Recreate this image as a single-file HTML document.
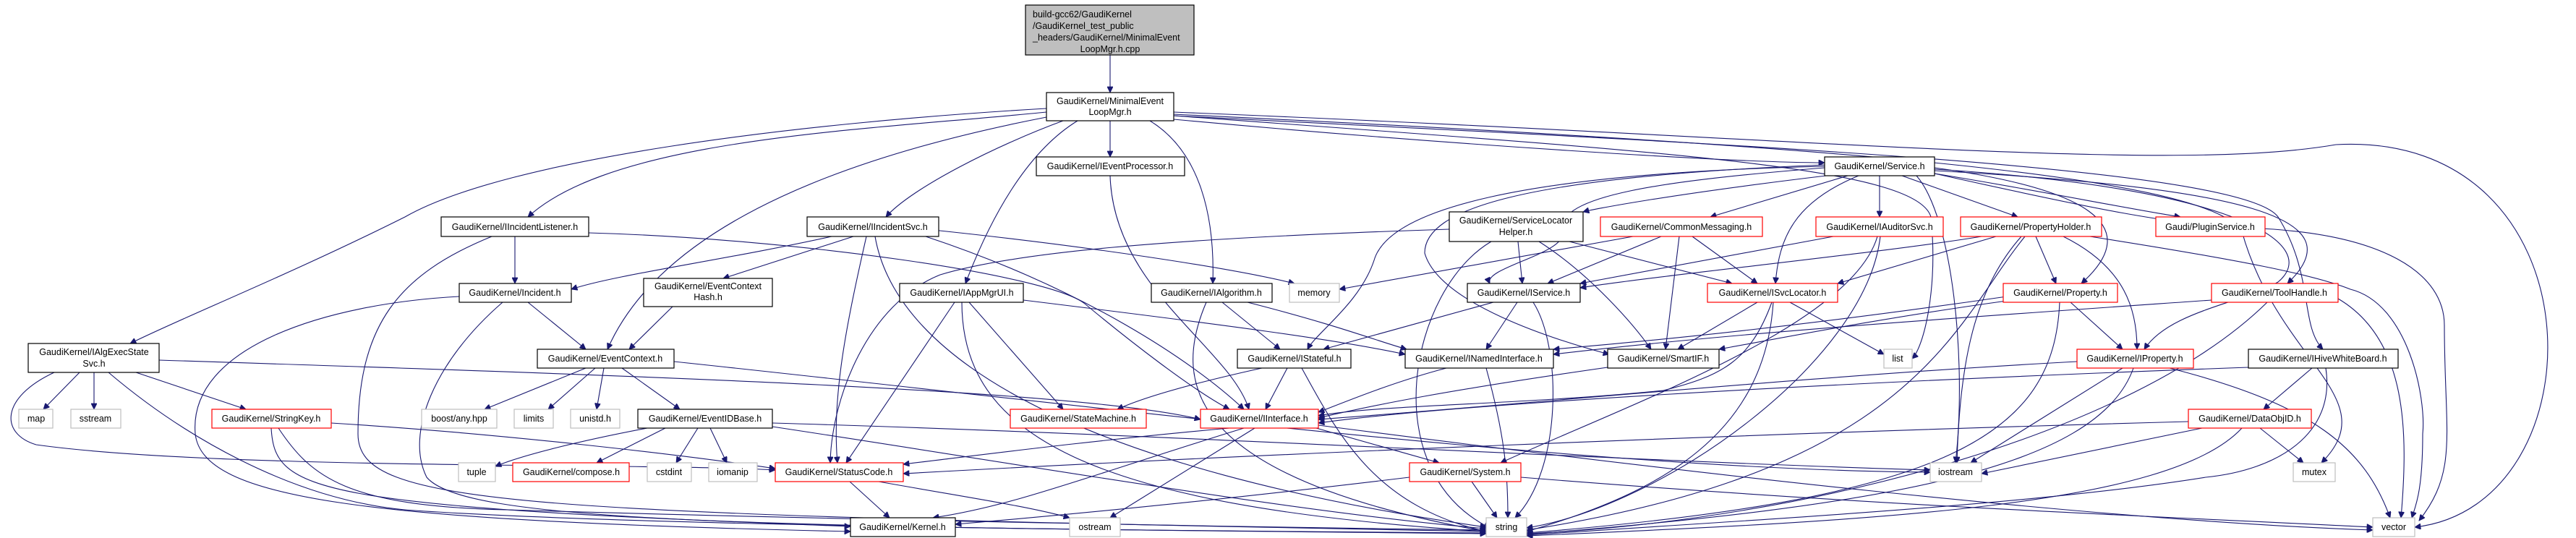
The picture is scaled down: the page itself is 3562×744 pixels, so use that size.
<!DOCTYPE html>
<html><head><meta charset="utf-8"><style>
html,body{margin:0;padding:0;background:#fff;}
svg{display:block;}
text{font-family:"Liberation Sans",Arial,sans-serif;font-size:12.5px;fill:#000;}
.e{fill:none;stroke:#191970;stroke-width:1.1;marker-end:url(#a);}
.b{fill:#fff;stroke:#000;stroke-width:1.2;}
.r{fill:#fff;stroke:#ff0000;stroke-width:1.2;}
.g{fill:#fff;stroke:#bfbfbf;stroke-width:1.2;}
</style></head><body>
<svg width="3562" height="744" viewBox="0 0 3562 744" xmlns="http://www.w3.org/2000/svg">
<defs><marker id="a" viewBox="0 0 10 10" refX="10" refY="5" markerWidth="10" markerHeight="8" markerUnits="userSpaceOnUse" orient="auto"><path d="M0,0 L10,5 L0,10 z" fill="#191970" stroke="#191970"/></marker></defs>
<g>
<path class="e" d="M1535 76 L1535 128"/>
<path class="e" d="M1535 167 L1535 217"/>
<path class="e" d="M1470 167 C1380 200,1260 260,1225 300"/>
<path class="e" d="M1490 167 C1420 210,1370 300,1335 392"/>
<path class="e" d="M1590 167 C1660 210,1680 300,1677 392"/>
<path class="e" d="M1447 155 C1200 180,850 190,730 300"/>
<path class="e" d="M1447 150 C1100 170,700 220,560 300 C400 380,250 440,180 475"/>
<path class="e" d="M1447 162 C1200 210,920 300,840 483"/>
<path class="e" d="M1623 165 C2000 200,2400 225,2523 225"/>
<path class="e" d="M1623 160 C2400 200,3100 230,3150 300 C3200 380,3180 450,3212 483"/>
<path class="e" d="M1623 155 C2500 190,3000 240,3230 200 C3600 180,3600 700,3339 729"/>
<path class="e" d="M1623 158 C2500 200,3050 240,3100 320 C3150 500,3300 550,3210 640"/>
<path class="e" d="M1623 160 C2300 210,2650 230,2670 300 C2680 400,2660 480,2644 496"/>
<path class="e" d="M1535 243 C1540 400,1700 480,1727 566"/>
<path class="e" d="M1180 327 L1000 385"/>
<path class="e" d="M1150 327 C1000 360,850 380,790 400"/>
<path class="e" d="M1290 318 C1500 340,1700 370,1790 392"/>
<path class="e" d="M1280 327 C1500 400,1650 500,1720 566"/>
<path class="e" d="M1198 327 C1170 450,1150 550,1158 640"/>
<path class="e" d="M1210 327 C1240 500,1500 650,2055 729"/>
<path class="e" d="M712 327 L712 392"/>
<path class="e" d="M814 322 C1100 330,1450 380,1500 420 C1560 470,1650 540,1700 566"/>
<path class="e" d="M680 327 C550 380,495 450,495 600 C495 700,700 710,2055 735"/>
<path class="e" d="M730 418 L810 483"/>
<path class="e" d="M695 418 C600 500,560 600,590 660 C640 720,1000 730,2055 737"/>
<path class="e" d="M635 410 C450 420,260 480,270 600 C280 690,500 720,1176 735"/>
<path class="e" d="M930 424 L870 483"/>
<path class="e" d="M810 509 L670 566"/>
<path class="e" d="M823 509 L758 566"/>
<path class="e" d="M835 509 L825 566"/>
<path class="e" d="M860 509 L940 566"/>
<path class="e" d="M932 500 C1500 560,2200 650,2669 653"/>
<path class="e" d="M895 592 C800 610,720 630,685 645"/>
<path class="e" d="M920 592 L825 640"/>
<path class="e" d="M965 592 L935 640"/>
<path class="e" d="M982 592 L1005 640"/>
<path class="e" d="M1068 585 C1600 600,2300 640,2669 650"/>
<path class="e" d="M1068 590 C1400 640,1800 710,2055 731"/>
<path class="e" d="M110 515 L60 566"/>
<path class="e" d="M130 515 L130 566"/>
<path class="e" d="M188 515 L340 566"/>
<path class="e" d="M220 498 C900 520,1500 540,1660 580"/>
<path class="e" d="M75 515 C0 550,0 600,50 615 C300 650,900 640,1072 650"/>
<path class="e" d="M150 515 C250 600,400 690,560 705 C900 730,1800 735,2055 738"/>
<path class="e" d="M375 592 C380 680,430 700,1176 728"/>
<path class="e" d="M385 592 C430 660,480 700,700 705 C1200 720,1800 730,2055 733"/>
<path class="e" d="M458 585 C700 600,950 630,1072 648"/>
<path class="e" d="M1340 418 L1470 566"/>
<path class="e" d="M1320 418 L1170 640"/>
<path class="e" d="M1415 415 C1700 450,1850 470,1943 490"/>
<path class="e" d="M1330 418 C1330 600,1500 700,2055 735"/>
<path class="e" d="M1690 418 L1770 483"/>
<path class="e" d="M1725 418 C1850 450,1900 470,1945 483"/>
<path class="e" d="M1668 418 C1620 530,1640 660,2055 735"/>
<path class="e" d="M1745 509 C1650 530,1580 550,1545 566"/>
<path class="e" d="M1780 509 L1750 566"/>
<path class="e" d="M1800 509 C1850 600,1900 700,2055 735"/>
<path class="e" d="M1700 592 C1500 610,1350 630,1249 642"/>
<path class="e" d="M1720 592 C1500 660,1400 700,1290 716"/>
<path class="e" d="M1735 592 L1535 716"/>
<path class="e" d="M1820 592 L1990 640"/>
<path class="e" d="M1175 666 L1230 716"/>
<path class="e" d="M1215 666 C1350 690,1420 700,1479 716"/>
<path class="e" d="M1949 660 C1700 690,1500 710,1321 725"/>
<path class="e" d="M2035 666 L2070 716"/>
<path class="e" d="M2525 243 C2300 270,2200 290,2189 293"/>
<path class="e" d="M2555 243 L2365 300"/>
<path class="e" d="M2599 243 L2599 300"/>
<path class="e" d="M2570 243 C2480 280,2460 330,2455 392"/>
<path class="e" d="M2630 243 L2790 300"/>
<path class="e" d="M2675 240 C2800 260,2950 290,3015 300"/>
<path class="e" d="M2675 232 C2880 260,2970 310,2878 392"/>
<path class="e" d="M2675 234 C3100 260,3210 340,3150 390 C3100 420,3000 430,2965 483"/>
<path class="e" d="M2675 236 C3100 260,3260 300,3163 392"/>
<path class="e" d="M2523 232 C2300 250,2150 270,2160 320 C2170 350,2050 370,2060 392"/>
<path class="e" d="M2523 230 C2100 240,1920 290,1900 360 C1880 420,1820 460,1808 483"/>
<path class="e" d="M2523 228 C2100 245,1970 290,1970 350 C1990 420,2150 470,2225 490"/>
<path class="e" d="M2675 240 C2900 290,3000 310,3100 315 C3300 320,3380 380,3380 450 C3380 600,3400 650,3345 720"/>
<path class="e" d="M2650 243 C2700 300,2720 500,2704 640"/>
<path class="e" d="M2258 327 L1852 400"/>
<path class="e" d="M2004 317 C1600 330,1400 350,1300 380 C1200 420,1150 550,1148 640"/>
<path class="e" d="M2099 334 L2105 392"/>
<path class="e" d="M2128 334 C2200 380,2260 450,2283 483"/>
<path class="e" d="M2170 334 L2395 392"/>
<path class="e" d="M2062 334 C1950 400,1900 650,2060 730"/>
<path class="e" d="M2297 327 L2140 392"/>
<path class="e" d="M2340 327 L2430 392"/>
<path class="e" d="M2322 327 L2303 483"/>
<path class="e" d="M2535 327 L2185 392"/>
<path class="e" d="M2596 327 C2560 450,2250 560,2075 640"/>
<path class="e" d="M2600 327 C2580 500,2300 700,2111 730"/>
<path class="e" d="M2065 418 L1830 483"/>
<path class="e" d="M2098 418 L2055 483"/>
<path class="e" d="M2120 418 C2160 480,2160 650,2095 716"/>
<path class="e" d="M2450 418 C2420 500,2380 520,2300 540 C2100 560,1900 560,1823 575"/>
<path class="e" d="M2430 418 L2320 483"/>
<path class="e" d="M2475 418 L2605 490"/>
<path class="e" d="M2452 418 C2440 600,2300 680,2111 735"/>
<path class="e" d="M2000 509 C1920 530,1850 560,1823 570"/>
<path class="e" d="M2055 509 C2080 600,2085 650,2085 716"/>
<path class="e" d="M2223 508 C2000 540,1900 560,1823 578"/>
<path class="e" d="M2760 327 L2541 392"/>
<path class="e" d="M2740 327 C2600 350,2300 380,2185 398"/>
<path class="e" d="M2815 327 L2843 392"/>
<path class="e" d="M2853 327 C2940 370,2955 430,2955 483"/>
<path class="e" d="M2795 327 C2730 400,2710 500,2706 640"/>
<path class="e" d="M2800 327 C2700 450,2650 650,2111 733"/>
<path class="e" d="M2890 327 C3100 360,3200 380,3250 400 C3330 420,3355 550,3350 600 C3350 680,3340 700,3335 716"/>
<path class="e" d="M2863 418 L2935 483"/>
<path class="e" d="M2775 410 C2500 450,2300 470,2148 483"/>
<path class="e" d="M2848 418 C2840 600,2700 690,2111 737"/>
<path class="e" d="M2775 416 C2600 440,2450 470,2377 483"/>
<path class="e" d="M3135 418 C2950 600,2500 720,2111 738"/>
<path class="e" d="M3233 413 C3330 470,3330 600,3320 716"/>
<path class="e" d="M3058 415 C2700 440,2400 460,2148 490"/>
<path class="e" d="M2872 500 C2500 520,2100 560,1823 580"/>
<path class="e" d="M2935 509 L2725 640"/>
<path class="e" d="M2950 509 C2900 650,2600 700,2111 739"/>
<path class="e" d="M3000 509 C3200 560,3270 620,3305 716"/>
<path class="e" d="M3197 509 L3130 566"/>
<path class="e" d="M3109 508 C2500 530,2000 560,1823 585"/>
<path class="e" d="M3216 509 C3230 600,3150 650,3050 660 C2800 700,2400 720,2111 740"/>
<path class="e" d="M3045 592 L2740 655"/>
<path class="e" d="M3125 592 L3185 640"/>
<path class="e" d="M3100 592 C3000 700,2600 720,2111 741"/>
<path class="e" d="M3026 583 C2400 600,1700 630,1249 655"/>
<path class="e" d="M2103 660 C2600 700,3000 715,3281 729"/>
<path class="e" d="M1823 588 C2300 650,2900 720,3281 733"/>
</g>
<g>
<rect x="1418" y="7" width="233" height="69" fill="#bfbfbf" stroke="#000" stroke-width="1.2"/>
<text x="1428" y="24">build-gcc62/GaudiKernel</text>
<text x="1428" y="40">/GaudiKernel_test_public</text>
<text x="1428" y="56">_headers/GaudiKernel/MinimalEvent</text>
<text x="1535" y="72" text-anchor="middle">LoopMgr.h.cpp</text>

<rect class="b" x="1447" y="128" width="176" height="39"/>
<text x="1535" y="144" text-anchor="middle">GaudiKernel/MinimalEvent</text>
<text x="1535" y="159" text-anchor="middle">LoopMgr.h</text>

<rect class="b" x="1433" y="217" width="205" height="26"/><text x="1535" y="234" text-anchor="middle">GaudiKernel/IEventProcessor.h</text>
<rect class="b" x="1116" y="300" width="182" height="27"/><text x="1207" y="318" text-anchor="middle">GaudiKernel/IIncidentSvc.h</text>
<rect class="b" x="890" y="385" width="178" height="39"/><text x="979" y="400" text-anchor="middle">GaudiKernel/EventContext</text><text x="979" y="415" text-anchor="middle">Hash.h</text>
<rect class="b" x="1244" y="392" width="171" height="26"/><text x="1330" y="409" text-anchor="middle">GaudiKernel/IAppMgrUI.h</text>
<rect class="b" x="1592" y="392" width="167" height="26"/><text x="1675" y="409" text-anchor="middle">GaudiKernel/IAlgorithm.h</text>
<rect class="g" x="1783" y="392" width="69" height="26"/><text x="1817" y="409" text-anchor="middle">memory</text>
<rect class="b" x="743" y="483" width="189" height="26"/><text x="837" y="500" text-anchor="middle">GaudiKernel/EventContext.h</text>
<rect class="b" x="1711" y="483" width="157" height="26"/><text x="1790" y="500" text-anchor="middle">GaudiKernel/IStateful.h</text>
<rect class="b" x="882" y="566" width="186" height="26"/><text x="975" y="583" text-anchor="middle">GaudiKernel/EventIDBase.h</text>
<rect class="r" x="1397" y="566" width="188" height="26"/><text x="1491" y="583" text-anchor="middle">GaudiKernel/StateMachine.h</text>
<rect class="r" x="1660" y="566" width="163" height="26"/><text x="1741" y="583" text-anchor="middle">GaudiKernel/IInterface.h</text>
<rect class="g" x="895" y="640" width="61" height="26"/><text x="925" y="657" text-anchor="middle">cstdint</text>
<rect class="g" x="980" y="640" width="67" height="26"/><text x="1013" y="657" text-anchor="middle">iomanip</text>
<rect class="r" x="1072" y="640" width="177" height="26"/><text x="1160" y="657" text-anchor="middle">GaudiKernel/StatusCode.h</text>
<rect class="b" x="1176" y="716" width="145" height="26"/><text x="1248" y="733" text-anchor="middle">GaudiKernel/Kernel.h</text>
<rect class="g" x="1479" y="716" width="70" height="26"/><text x="1514" y="733" text-anchor="middle">ostream</text>
<rect class="b" x="610" y="300" width="204" height="27"/><text x="712" y="318" text-anchor="middle">GaudiKernel/IIncidentListener.h</text>
<rect class="b" x="635" y="392" width="155" height="26"/><text x="712" y="409" text-anchor="middle">GaudiKernel/Incident.h</text>
<rect class="b" x="39" y="475" width="181" height="40"/><text x="130" y="491" text-anchor="middle">GaudiKernel/IAlgExecState</text><text x="130" y="507" text-anchor="middle">Svc.h</text>
<rect class="g" x="26" y="566" width="47" height="26"/><text x="50" y="583" text-anchor="middle">map</text>
<rect class="g" x="98" y="566" width="69" height="26"/><text x="132" y="583" text-anchor="middle">sstream</text>
<rect class="r" x="293" y="566" width="165" height="26"/><text x="375" y="583" text-anchor="middle">GaudiKernel/StringKey.h</text>
<rect class="g" x="583" y="566" width="104" height="26"/><text x="635" y="583" text-anchor="middle">boost/any.hpp</text>
<rect class="g" x="711" y="566" width="54" height="26"/><text x="738" y="583" text-anchor="middle">limits</text>
<rect class="g" x="789" y="566" width="68" height="26"/><text x="823" y="583" text-anchor="middle">unistd.h</text>
<rect class="g" x="634" y="640" width="51" height="26"/><text x="659" y="657" text-anchor="middle">tuple</text>
<rect class="r" x="709" y="640" width="161" height="26"/><text x="790" y="657" text-anchor="middle">GaudiKernel/compose.h</text>
<rect class="b" x="2523" y="217" width="152" height="26"/><text x="2599" y="234" text-anchor="middle">GaudiKernel/Service.h</text>
<rect class="b" x="2004" y="293" width="185" height="41"/><text x="2096" y="309" text-anchor="middle">GaudiKernel/ServiceLocator</text><text x="2096" y="325" text-anchor="middle">Helper.h</text>
<rect class="r" x="2213" y="300" width="224" height="27"/><text x="2325" y="318" text-anchor="middle">GaudiKernel/CommonMessaging.h</text>
<rect class="r" x="2511" y="300" width="176" height="27"/><text x="2599" y="318" text-anchor="middle">GaudiKernel/IAuditorSvc.h</text>
<rect class="b" x="2029" y="392" width="156" height="26"/><text x="2107" y="409" text-anchor="middle">GaudiKernel/IService.h</text>
<rect class="r" x="2361" y="392" width="180" height="26"/><text x="2451" y="409" text-anchor="middle">GaudiKernel/ISvcLocator.h</text>
<rect class="b" x="1943" y="483" width="205" height="26"/><text x="2045" y="500" text-anchor="middle">GaudiKernel/INamedInterface.h</text>
<rect class="b" x="2223" y="483" width="154" height="26"/><text x="2300" y="500" text-anchor="middle">GaudiKernel/SmartIF.h</text>
<rect class="g" x="2605" y="483" width="39" height="26"/><text x="2624" y="500" text-anchor="middle">list</text>
<rect class="r" x="1949" y="640" width="154" height="26"/><text x="2026" y="657" text-anchor="middle">GaudiKernel/System.h</text>
<rect class="g" x="2055" y="716" width="56" height="26"/><text x="2083" y="733" text-anchor="middle">string</text>
<rect class="g" x="2669" y="640" width="71" height="26"/><text x="2704" y="657" text-anchor="middle">iostream</text>
<rect class="r" x="2711" y="300" width="195" height="27"/><text x="2808" y="318" text-anchor="middle">GaudiKernel/PropertyHolder.h</text>
<rect class="r" x="2981" y="300" width="151" height="27"/><text x="3056" y="318" text-anchor="middle">Gaudi/PluginService.h</text>
<rect class="r" x="2770" y="392" width="158" height="26"/><text x="2849" y="409" text-anchor="middle">GaudiKernel/Property.h</text>
<rect class="r" x="3058" y="392" width="175" height="26"/><text x="3145" y="409" text-anchor="middle">GaudiKernel/ToolHandle.h</text>
<rect class="r" x="2872" y="483" width="161" height="26"/><text x="2952" y="500" text-anchor="middle">GaudiKernel/IProperty.h</text>
<rect class="b" x="3109" y="483" width="207" height="26"/><text x="3212" y="500" text-anchor="middle">GaudiKernel/IHiveWhiteBoard.h</text>
<rect class="r" x="3026" y="566" width="170" height="26"/><text x="3111" y="583" text-anchor="middle">GaudiKernel/DataObjID.h</text>
<rect class="g" x="3171" y="640" width="58" height="26"/><text x="3200" y="657" text-anchor="middle">mutex</text>
<rect class="g" x="3281" y="716" width="58" height="26"/><text x="3310" y="733" text-anchor="middle">vector</text>
</g>
</svg>
</body></html>
